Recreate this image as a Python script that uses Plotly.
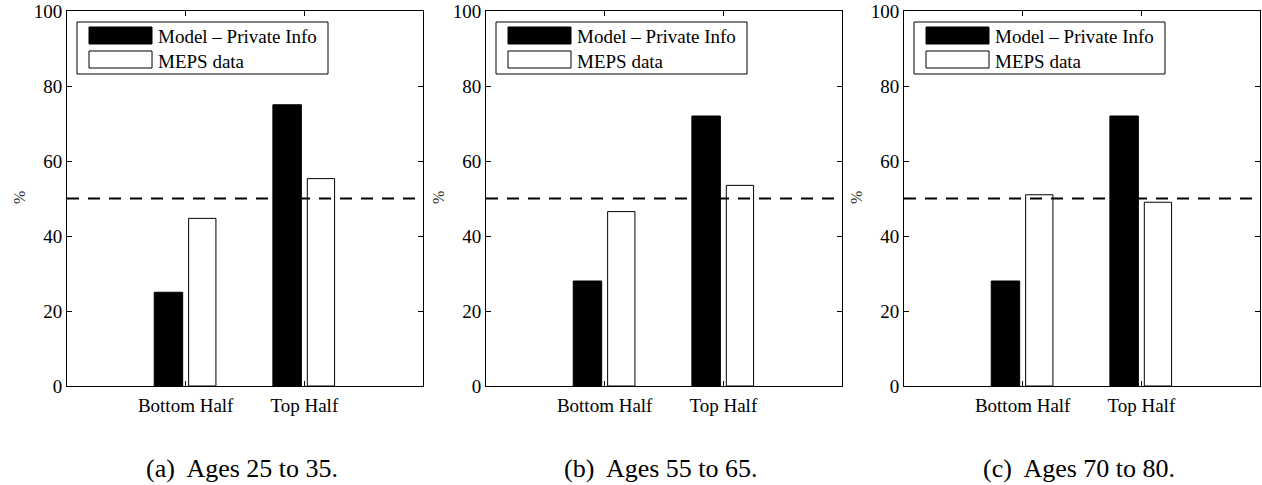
import plotly.graph_objects as go

# ---- data ----
categories = ["Bottom Half", "Top Half"]
panel_captions = ["(a)  Ages 25 to 35.", "(b)  Ages 55 to 65.", "(c)  Ages 70 to 80."]
model_private = [
    [25.0, 75.0],
    [28.0, 72.0],
    [28.0, 72.0],
]
meps_data = [
    [44.7, 55.3],
    [46.5, 53.5],
    [51.0, 49.0],
]
series_names = ["Model \u2013 Private Info", "MEPS data"]
reference_level = 50
y_ticks = [0, 20, 40, 60, 80, 100]

# ---- layout geometry (pixels) ----
W, H = 1262, 485
panel_left = [67, 486, 904]
panel_w = 356
plot_top, plot_bottom = 11, 386
FONT = "Times New Roman, Liberation Serif, serif"

def px(x):
    return x / W

def py(y):
    return 1 - y / H

fig = go.Figure()
shapes = []
annotations = []
cat_pos = [1, 2]

for i in range(3):
    xa = "x" if i == 0 else f"x{i+1}"
    ya = "y" if i == 0 else f"y{i+1}"
    fig.add_trace(go.Bar(
        x=cat_pos, y=model_private[i], name=series_names[0],
        width=0.24, offset=-0.265,
        marker=dict(color="black", line=dict(color="black", width=1)),
        xaxis=xa, yaxis=ya, showlegend=False,
    ))
    fig.add_trace(go.Bar(
        x=cat_pos, y=meps_data[i], name=series_names[1],
        width=0.23, offset=0.025,
        marker=dict(color="white", line=dict(color="black", width=1)),
        xaxis=xa, yaxis=ya, showlegend=False,
    ))
    L = panel_left[i]
    axis_common = dict(
        showline=True, linecolor="black", linewidth=1, mirror="ticks",
        ticks="inside", ticklen=5, tickcolor="black", tickwidth=1,
        showgrid=False, zeroline=False, automargin=False,
        tickfont=dict(family=FONT, size=19, color="black"),
    )
    fig.layout[f"xaxis{'' if i == 0 else i+1}"] = dict(
        domain=[px(L), px(L + panel_w)], anchor=ya, range=[0, 3],
        tickvals=cat_pos, ticktext=categories, ticklabelstandoff=2,
        **axis_common,
    )
    fig.layout[f"yaxis{'' if i == 0 else i+1}"] = dict(
        domain=[py(plot_bottom), py(plot_top)], anchor=xa, range=[0, 100],
        tickvals=y_ticks, **axis_common,
    )
    # dashed reference line
    shapes.append(dict(
        type="line", xref=f"{xa} domain", yref=ya, x0=0, x1=1,
        y0=reference_level, y1=reference_level,
        line=dict(color="black", width=2, dash="12px,9px"), layer="above",
    ))
    # legend box
    shapes.append(dict(
        type="rect", xref="paper", yref="paper",
        x0=px(L + 10), x1=px(L + 261), y0=py(plot_top + 63), y1=py(plot_top + 11),
        line=dict(color="black", width=1), fillcolor="white", layer="above",
    ))
    shapes.append(dict(
        type="rect", xref="paper", yref="paper",
        x0=px(L + 22), x1=px(L + 85), y0=py(plot_top + 33), y1=py(plot_top + 16),
        line=dict(color="black", width=1), fillcolor="black", layer="above",
    ))
    shapes.append(dict(
        type="rect", xref="paper", yref="paper",
        x0=px(L + 22), x1=px(L + 85), y0=py(plot_top + 57), y1=py(plot_top + 40),
        line=dict(color="black", width=1), fillcolor="white", layer="above",
    ))
    annotations.append(dict(
        text=series_names[0], xref="paper", yref="paper",
        x=px(L + 89), y=py(plot_top + 26), xanchor="left", yanchor="middle",
        showarrow=False, font=dict(family=FONT, size=19, color="black"),
    ))
    annotations.append(dict(
        text=series_names[1], xref="paper", yref="paper",
        x=px(L + 89), y=py(plot_top + 50), xanchor="left", yanchor="middle",
        showarrow=False, font=dict(family=FONT, size=19, color="black"),
    ))
    # y title
    annotations.append(dict(
        text="%", xref="paper", yref="paper",
        x=px(L - 48), y=py(198), xanchor="center", yanchor="middle",
        textangle=-90, showarrow=False,
        font=dict(family=FONT, size=16, color="#333"),
    ))
    # caption
    annotations.append(dict(
        text=panel_captions[i], xref="paper", yref="paper",
        x=px(L + panel_w / 2 - 3), y=py(468), xanchor="center", yanchor="middle",
        showarrow=False, font=dict(family=FONT, size=26, color="black"),
    ))

fig.update_layout(
    template="none",
    width=W, height=H, margin=dict(l=0, r=0, t=0, b=0, autoexpand=False),
    paper_bgcolor="white", plot_bgcolor="white",
    barmode="overlay", shapes=shapes, annotations=annotations,
    showlegend=False,
)
fig.write_html("out.html")
